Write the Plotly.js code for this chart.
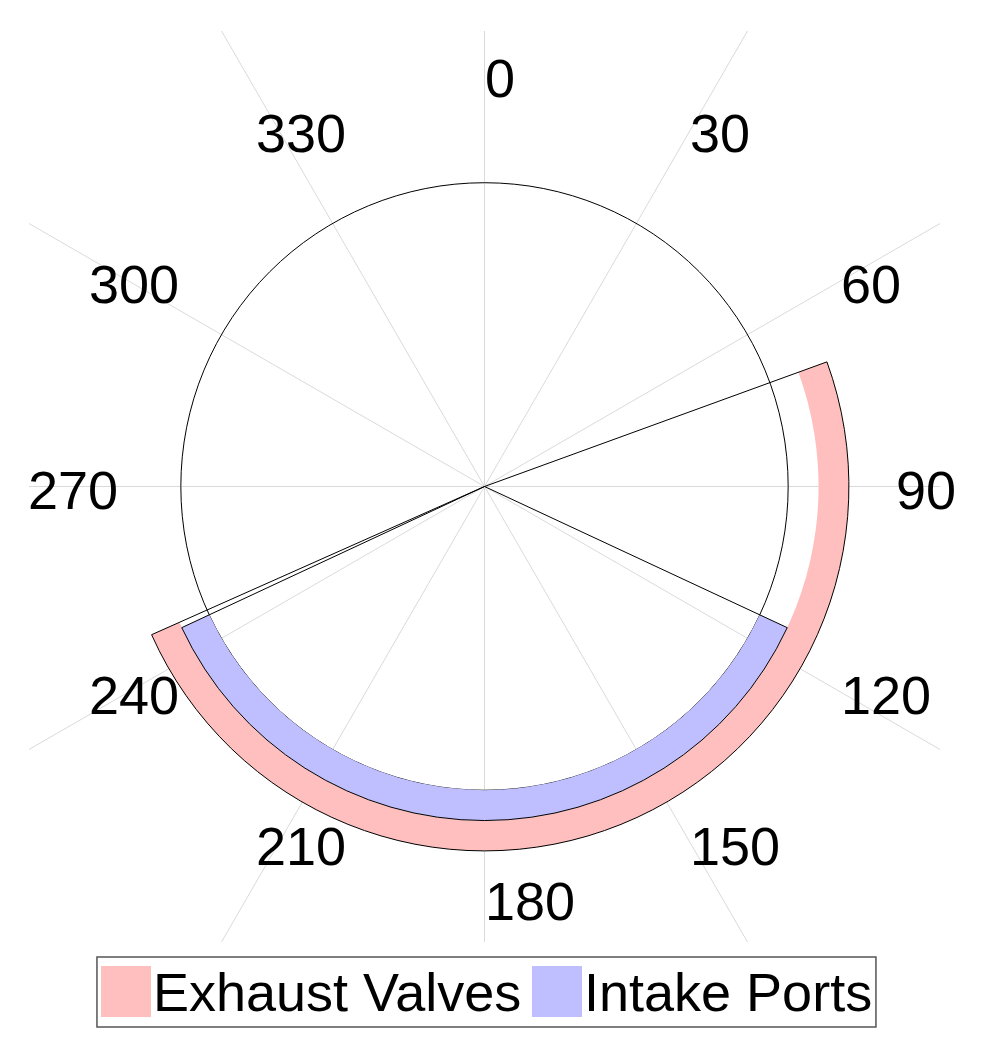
<!DOCTYPE html>
<html>
<head>
<meta charset="utf-8">
<script src="https://cdn.plot.ly/plotly-3.0.1.min.js"></script>
<style>html,body{margin:0;padding:0;background:#fff;}#chart{width:986px;height:1046px;}</style>
</head>
<body>
<div id="chart"></div>
<script>
// ---- data ----
const tickAngles = [0, 30, 60, 90, 120, 150, 180, 210, 240, 270, 300, 330];
const tickLabels = ['0', '30', '60', '90', '120', '150', '180', '210', '240', '270', '300', '330'];
const seriesNames = ['Exhaust Valves', 'Intake Ports'];
const openAngles = [70, 115];    // degrees
const closeAngles = [246, 245];  // degrees
const innerRadii = [1.1, 1.0];
const outerRadii = [1.2, 1.1];
const referenceCircle = [1];

// ---- styles ----
const fillColors = ['rgb(255,191,191)', 'rgb(191,191,255)'];
const FONT = 'Liberation Sans, Arial, sans-serif';
const FS = 54;
const LABEL_R = 1.354;
const GRID_LEN = 3;

const rad = d => d * Math.PI / 180;

// grid spokes (cartesian overlay, clipped by plot area)
const gx = [], gy = [];
tickAngles.forEach(a => {
  gx.push(0, GRID_LEN * Math.sin(rad(a)), null);
  gy.push(0, GRID_LEN * Math.cos(rad(a)), null);
});

const traces = [{
  type: 'scatter', mode: 'lines', x: gx, y: gy, xaxis: 'x', yaxis: 'y',
  line: {color: 'rgb(218,218,218)', width: 1}, hoverinfo: 'skip', showlegend: false
}];

// band fills
seriesNames.forEach((name, i) => {
  traces.push({
    type: 'barpolar', subplot: 'polar', name: name,
    theta: [(openAngles[i] + closeAngles[i]) / 2],
    width: [closeAngles[i] - openAngles[i]],
    base: [innerRadii[i]],
    r: [outerRadii[i] - innerRadii[i]],
    marker: {color: fillColors[i], line: {width: 0}},
    showlegend: false, hoverinfo: 'name'
  });
});
// wedge outlines (centre -> outer arc -> centre)
seriesNames.forEach((name, i) => {
  traces.push({
    type: 'barpolar', subplot: 'polar', name: name,
    theta: [(openAngles[i] + closeAngles[i]) / 2],
    width: [closeAngles[i] - openAngles[i]],
    base: [0],
    r: [outerRadii[i]],
    marker: {color: 'rgba(0,0,0,0)', line: {color: 'black', width: 1}},
    showlegend: false, hoverinfo: 'skip'
  });
});

// angular labels as annotations
const annotations = tickAngles.map((a, i) => {
  const s = Math.sin(rad(a));
  const hw = tickLabels[i].length * 0.556 * FS / 2;
  const right = s > -1e-9;
  return {
    x: LABEL_R * s, y: LABEL_R * Math.cos(rad(a)), xref: 'x', yref: 'y',
    text: tickLabels[i], showarrow: false,
    xanchor: right ? 'left' : 'center', yanchor: 'middle',
    xshift: right ? 0 : hw * (1 + s), yshift: -3,
    borderpad: 0, borderwidth: 0,
    font: {family: FONT, size: FS, color: 'black'}
  };
});

// custom legend
const shapes = [{
  type: 'rect', xref: 'paper', yref: 'paper',
  x0: 0.0746, x1: 0.9297, y0: -0.0933, y1: -0.0165,
  line: {color: '#555', width: 1.5}, fillcolor: 'white', layer: 'above'
}];
const swatchX = [[0.0790, 0.1339], [0.5521, 0.6070]];
const textX = [0.1361, 0.6092];
seriesNames.forEach((name, i) => {
  shapes.push({
    type: 'rect', xref: 'paper', yref: 'paper',
    x0: swatchX[i][0], x1: swatchX[i][1], y0: -0.0823, y1: -0.0263,
    line: {width: 0}, fillcolor: fillColors[i], layer: 'above'
  });
  annotations.push({
    x: textX[i], y: -0.0549, xref: 'paper', yref: 'paper',
    text: name, showarrow: false, xanchor: 'left', yanchor: 'middle',
    borderpad: 0, borderwidth: 0,
    font: {family: FONT, size: FS, color: 'black'}
  });
});

const layout = {
  width: 986, height: 1046,
  margin: {l: 29, r: 46, t: 31, b: 104, pad: 0},
  paper_bgcolor: 'white', plot_bgcolor: 'white',
  showlegend: false,
  xaxis: {range: [-1.5, 1.5], visible: false, fixedrange: true},
  yaxis: {range: [-1.5, 1.5], visible: false, fixedrange: true},
  polar: {
    domain: {x: [0, 1], y: [0, 1]},
    bgcolor: 'rgba(0,0,0,0)',
    barmode: 'overlay',
    angularaxis: {rotation: 90, direction: 'clockwise', visible: false},
    radialaxis: {
      range: [0, 1.5], autorange: false, showline: false, showticklabels: false,
      ticks: '', showgrid: true, tickvals: referenceCircle,
      gridcolor: 'black', gridwidth: 1
    }
  },
  annotations: annotations,
  shapes: shapes
};

Plotly.newPlot('chart', traces, layout, {displayModeBar: false, staticPlot: true});
</script>
</body>
</html>
